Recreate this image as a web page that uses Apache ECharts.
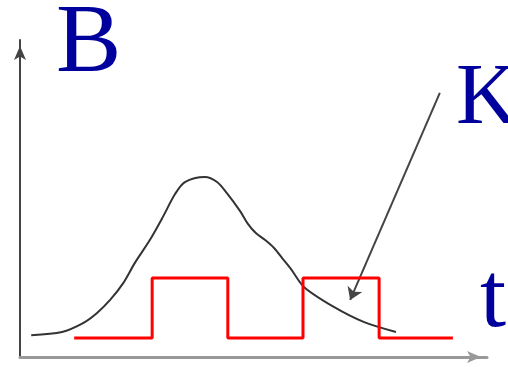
<!DOCTYPE html>
<html>
<head>
<meta charset="utf-8">
<script src="https://cdn.jsdelivr.net/npm/echarts@6/dist/echarts.min.js"></script>
<style>html,body{margin:0;padding:0;background:#fff}#c{width:508px;height:367px}</style>
</head>
<body>
<div id="c"></div>
<script>
// Bell-shaped curve B(t) [t, B]
const curveT = [2.4, 9.0, 13.5, 16.5, 19.3, 22.1, 24.6, 27.8, 30.6, 33.2, 35.3, 39.6, 42.2, 44.3, 47.1, 48.8, 50.5, 52.5, 54.4, 56.3, 58.0, 60.8, 67.2, 73.7, 80.5];
const curveB = [6.9, 7.9, 10.7, 13.9, 18.0, 23.3, 29.7, 36.9, 44.2, 51.4, 55.2, 56.8, 55.2, 51.7, 46.1, 42.0, 39.1, 36.9, 34.4, 30.9, 27.8, 22.1, 15.8, 11.0, 7.9];
// Square wave K(t): transition times and levels
const waveEdges = [11.6, 28.3, 44.5, 60.6, 76.9, 92.7];
const waveLow = 6.0, waveHigh = 24.9;
// Annotation arrow (from label K to curve)
const arrowFrom = [89.9, 83.3], arrowTo = [70.7, 18.0];
const labels = { y: 'B', k: 'K', x: 't' };

const curveData = curveT.map((t, i) => [t, curveB[i]]);
const waveData = [];
const levels = [waveLow, waveHigh, waveLow, waveHigh, waveLow, waveLow];
waveData.push([waveEdges[0], waveLow]);
for (let i = 1; i < waveEdges.length - 1; i++) {
  waveData.push([waveEdges[i], levels[i - 1]]);
  waveData.push([waveEdges[i], levels[i]]);
}
waveData.push([waveEdges[waveEdges.length - 1], waveLow]);

const chart = echarts.init(document.getElementById('c'), null, { renderer: 'canvas' });
const blue = '#00009c';
chart.setOption({
  backgroundColor: '#fff',
  animation: false,
  grid: { left: 20, top: 40, width: 467, height: 317 },
  xAxis: {
    type: 'value', min: 0, max: 100,
    axisLine: { onZero: false, symbol: ['none', 'arrow'], symbolSize: [9, 14], symbolOffset: [0, -6], lineStyle: { color: '#999', width: 3 } },
    axisTick: { show: false }, axisLabel: { show: false }, splitLine: { show: false }
  },
  yAxis: {
    type: 'value', min: 0, max: 100,
    axisLine: { onZero: false, symbol: ['none', 'arrow'], symbolSize: [9, 14], symbolOffset: [0, -6], lineStyle: { color: '#444', width: 2 } },
    axisTick: { show: false }, axisLabel: { show: false }, splitLine: { show: false }
  },
  series: [
    { type: 'line', data: curveData, smooth: 0.3, symbol: 'none', lineStyle: { color: '#333', width: 2 } },
    { type: 'line', data: waveData, symbol: 'none', lineStyle: { color: '#ff0000', width: 3 } },
    {
      type: 'lines', coordinateSystem: 'cartesian2d',
      symbol: ['none', 'arrow'], symbolSize: 12,
      lineStyle: { color: '#444', width: 2, opacity: 1, curveness: 0 },
      data: [{ coords: [arrowFrom, arrowTo] }]
    }
  ],
  graphic: [
    { type: 'text', left: 56, top: -4, style: { text: labels.y, font: '98px "Liberation Serif", serif', fill: blue } },
    { type: 'text', left: 456, top: 57, style: { text: labels.k, font: '86px "Liberation Serif", serif', fill: blue } },
    { type: 'text', left: 480, top: 254, style: { text: labels.x, font: '94px "Liberation Serif", serif', fill: blue } }
  ]
});
</script>
</body>
</html>
